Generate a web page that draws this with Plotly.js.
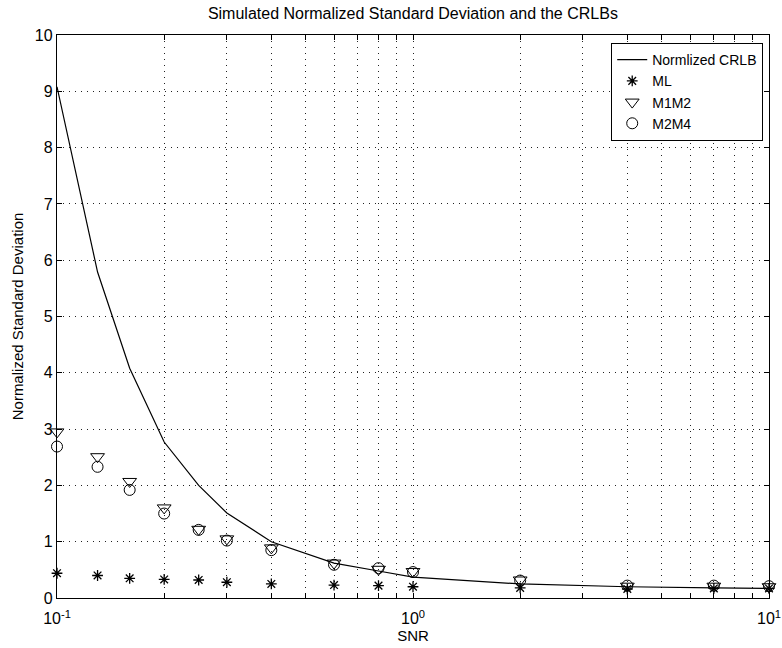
<!DOCTYPE html>
<html>
<head>
<meta charset="utf-8">
<script src="https://cdn.plot.ly/plotly-3.0.1.min.js"></script>
<style>body{margin:0;background:#fff;}#chart{width:782px;height:648px;}</style>
</head>
<body>
<div id="chart"></div>
<script>
var snr = [0.1, 0.13, 0.16, 0.2, 0.25, 0.3, 0.4, 0.6, 0.8, 1, 2, 4, 7, 10];
var crlb = [9.08, 5.79, 4.08, 2.77, 2.0, 1.51, 1.0, 0.62, 0.48, 0.37, 0.25, 0.20, 0.18, 0.17];
var ml = [0.44, 0.40, 0.35, 0.33, 0.32, 0.28, 0.25, 0.23, 0.22, 0.20, 0.18, 0.16, 0.17, 0.17];
var m1m2 = [2.95, 2.51, 2.07, 1.60, 1.22, 1.05, 0.89, 0.62, 0.51, 0.47, 0.32, 0.21, 0.21, 0.20];
var m2m4 = [2.69, 2.33, 1.92, 1.50, 1.21, 1.02, 0.85, 0.59, 0.53, 0.46, 0.31, 0.22, 0.22, 0.21];
var xTickVals = [0.1,0.2,0.3,0.4,0.5,0.6,0.7,0.8,0.9,1,2,3,4,5,6,7,8,9,10];
var xTickText = ['10<sup>-1</sup>','','','','','','','','','10<sup>0</sup>','','','','','','','','','10<sup>1</sup>'];
var yTickVals = [0,1,2,3,4,5,6,7,8,9,10];

var font = "Liberation Sans, Arial, sans-serif";
var traces = [
  {x: snr, y: crlb, mode: 'lines', name: 'Normlized CRLB', line: {color: '#000', width: 1.2}, cliponaxis: false},
  {x: snr, y: ml, mode: 'markers', name: 'ML', cliponaxis: false, marker: {symbol: 'asterisk-open', size: 9, color: '#000', line: {color: '#000', width: 1.3}}},
  {x: snr, y: m1m2, mode: 'markers', name: 'M1M2', cliponaxis: false, marker: {symbol: 'triangle-down-open', size: 12, color: '#000', line: {color: '#000', width: 1}}},
  {x: snr, y: m2m4, mode: 'markers', name: 'M2M4', cliponaxis: false, marker: {symbol: 'circle-open', size: 11, color: '#000', line: {color: '#000', width: 1}}}
];
var axisCommon = {
  showline: true, mirror: 'ticks', linecolor: '#000', linewidth: 1.2,
  ticks: 'inside', ticklen: 5, tickcolor: '#000',
  showgrid: true, gridcolor: '#222', griddash: '1px,5px', gridwidth: 1,
  zeroline: false, tickfont: {family: font, size: 16, color: '#000'}
};
var layout = {
  width: 782, height: 648,
  margin: {l: 57, r: 13, t: 35, b: 50},
  paper_bgcolor: '#fff', plot_bgcolor: '#fff',
  font: {family: font, color: '#000'},
  title: {text: 'Simulated Normalized Standard Deviation and the CRLBs', font: {family: font, size: 16, color: '#000'}, x: 0.528, xanchor: 'center', y: 0.979, yanchor: 'middle'},
  xaxis: Object.assign({}, axisCommon, {
    type: 'log', range: [-1, 1], tickmode: 'array', tickvals: xTickVals, ticktext: xTickText,
    ticklabelstandoff: 6,
    title: {text: 'SNR', font: {family: font, size: 15, color: '#000'}, standoff: 2}
  }),
  yaxis: Object.assign({}, axisCommon, {
    range: [0, 10], tickmode: 'array', tickvals: yTickVals,
    title: {text: 'Normalized Standard Deviation', font: {family: font, size: 15, color: '#000'}, standoff: 7}
  }),
  showlegend: true,
  legend: {x: 0.9916, xanchor: 'right', y: 0.986, yanchor: 'top', bgcolor: '#fff', bordercolor: '#000', borderwidth: 1.2,
    font: {family: font, size: 14, color: '#000'}, tracegroupgap: 0, itemwidth: 30}
};
Plotly.newPlot('chart', traces, layout, {displayModeBar: false, staticPlot: true});
</script>
</body>
</html>
